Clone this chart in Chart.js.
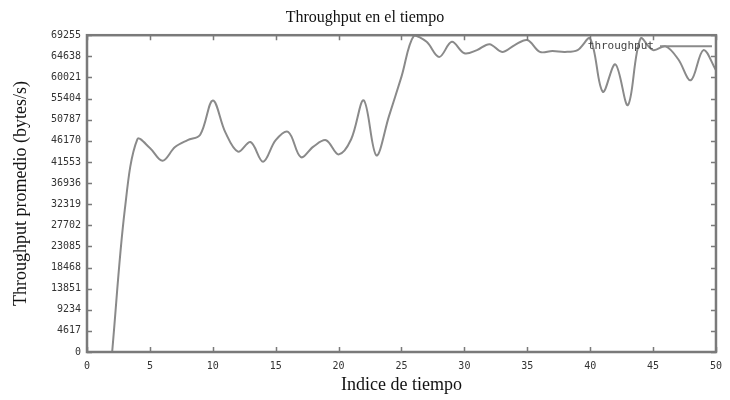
<!DOCTYPE html>
<html>
<head>
<meta charset="utf-8">
<script src="https://cdn.jsdelivr.net/npm/chart.js@4"></script>
<style>
  html, body { margin: 0; padding: 0; background: #fff; }
  #wrap { width: 730px; height: 400px; }
</style>
</head>
<body>
<div id="wrap"><canvas id="chart"></canvas></div>
<script>
// Data
const timeIndex = [2, 3, 4, 5, 6, 7, 8, 9, 10, 11, 12, 13, 14, 15, 16, 17, 18, 19, 20, 21, 22, 23, 24, 25, 26,
  27, 28, 29, 30, 31, 32, 33, 34, 35, 36, 37, 38, 39, 40, 41, 42, 43, 44, 45, 46, 47, 48, 49, 50];
const throughput = [0, 31000, 46500, 44600, 41800, 44800, 46300, 47500, 55000, 48000, 43800, 45900, 41600,
  46300, 48100, 42600, 44900, 46300, 43200, 46500, 55000, 43000, 51500, 60200, 69200,
  67800, 64500, 67800, 65300, 66000, 67300, 65600, 67100, 68200, 65600, 65800, 65600, 66000, 68500,
  56900, 62900, 54000, 68500, 66000, 66800, 64000, 59400, 66000, 61600];
const yTicks = [0, 4617, 9234, 13851, 18468, 23085, 27702, 32319, 36936, 41553, 46170, 50787, 55404,
  60021, 64638, 69255];
const xTicks = [0, 5, 10, 15, 20, 25, 30, 35, 40, 45, 50];

const points = timeIndex.map((x, i) => ({ x: x, y: throughput[i] }));
const frameColor = '#7a7a7a';
const lineColor = '#8a8a8a';
const tickFont = { family: 'DejaVu Sans Mono', size: 10 };

// gnuplot style frame, inward ticks and key inside the plot
const gnuplotFrame = {
    id: 'gnuplotFrame',
    afterDatasetsDraw(chart) {
        const ctx = chart.ctx;
        const a = chart.chartArea;
        const xs = chart.scales.x;
        const ys = chart.scales.y;
        ctx.save();
        ctx.strokeStyle = frameColor;
        ctx.lineWidth = 1.5;
        yTicks.forEach(v => {
            const py = Math.round(ys.getPixelForValue(v)) + 0.5;
            ctx.beginPath();
            ctx.moveTo(a.left, py); ctx.lineTo(a.left + 5, py);
            ctx.moveTo(a.right, py); ctx.lineTo(a.right - 5, py);
            ctx.stroke();
        });
        xTicks.forEach(v => {
            const px = Math.round(xs.getPixelForValue(v)) + 0.5;
            ctx.beginPath();
            ctx.moveTo(px, a.bottom); ctx.lineTo(px, a.bottom - 5);
            ctx.moveTo(px, a.top); ctx.lineTo(px, a.top + 5);
            ctx.stroke();
        });
        ctx.lineWidth = 2.5;
        ctx.strokeRect(a.left, a.top, a.right - a.left, a.bottom - a.top);

        // key
        const ky = a.top + 11;
        ctx.fillStyle = '#444';
        ctx.font = '11px "DejaVu Sans Mono"';
        ctx.textAlign = 'right';
        ctx.textBaseline = 'middle';
        ctx.fillText(chart.data.datasets[0].label, a.right - 62, ky);
        ctx.strokeStyle = lineColor;
        ctx.lineWidth = 2;
        ctx.beginPath();
        ctx.moveTo(a.right - 56, ky);
        ctx.lineTo(a.right - 4, ky);
        ctx.stroke();
        ctx.restore();
    }
};

new Chart(document.getElementById('chart').getContext('2d'), {
    type: 'line',
    data: {
        datasets: [{
            label: 'throughput',
            data: points,
            borderColor: lineColor,
            borderWidth: 2,
            pointRadius: 0,
            tension: 0.35,
            fill: false
        }]
    },
    options: {
        responsive: true,
        maintainAspectRatio: false,
        animation: false,
        layout: { padding: 0 },
        plugins: {
            legend: { display: false },
            tooltip: { enabled: false },
            title: {
                display: true,
                text: 'Throughput en el tiempo',
                color: '#111',
                font: { family: 'Liberation Serif', size: 16, weight: 'normal' },
                padding: { top: 8, bottom: 8 }
            }
        },
        scales: {
            x: {
                type: 'linear',
                min: 0,
                max: 50,
                afterBuildTicks: s => { s.ticks = xTicks.map(v => ({ value: v })); },
                afterFit: s => { s.height = 48; },
                grid: { display: false, drawTicks: false },
                border: { display: false },
                ticks: { color: '#333', font: tickFont, padding: 8, maxRotation: 0, callback: v => String(v) },
                title: {
                    display: true,
                    text: 'Indice de tiempo',
                    color: '#111',
                    font: { family: 'Liberation Serif', size: 18 },
                    padding: { top: 0, bottom: 4 }
                }
            },
            y: {
                min: 0,
                max: 69255,
                afterBuildTicks: s => { s.ticks = yTicks.map(v => ({ value: v })); },
                afterFit: s => { s.width = 87; },
                grid: { display: false, drawTicks: false },
                border: { display: false },
                ticks: { color: '#333', font: tickFont, padding: 6, callback: v => String(v) },
                title: {
                    display: true,
                    text: 'Throughput promedio (bytes/s)',
                    color: '#111',
                    font: { family: 'Liberation Serif', size: 18 },
                    padding: { top: 10, bottom: 0 }
                }
            },
            y2: {
                position: 'right',
                min: 0,
                max: 69255,
                afterFit: s => { s.width = 12; },
                grid: { display: false, drawTicks: false },
                border: { display: false },
                ticks: { display: false }
            }
        }
    },
    plugins: [gnuplotFrame]
});
</script>
</body>
</html>
